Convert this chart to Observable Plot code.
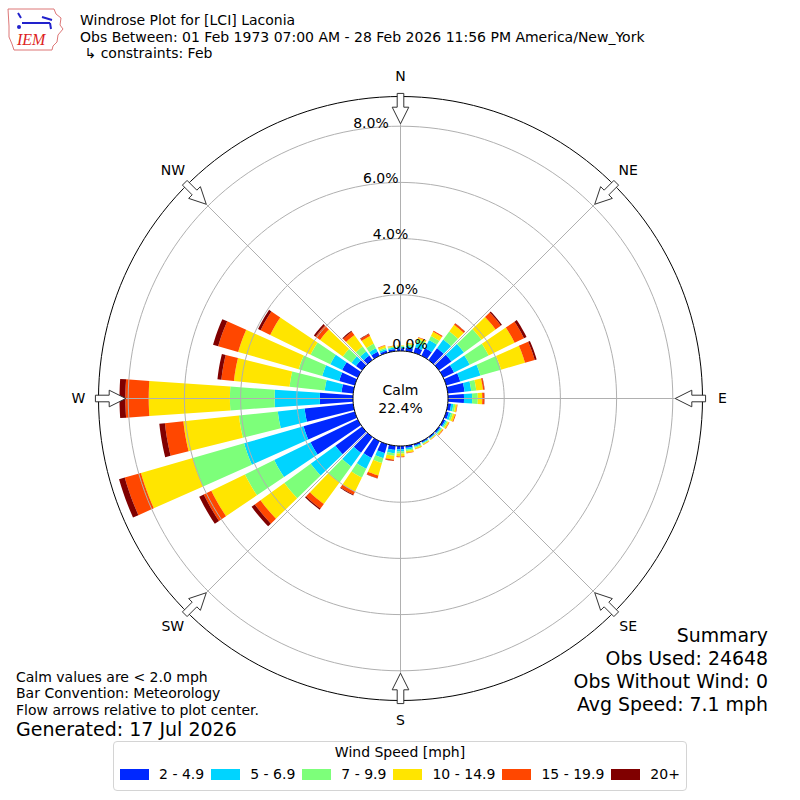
<!DOCTYPE html>
<html><head><meta charset="utf-8">
<script src="https://cdn.jsdelivr.net/npm/d3@7"></script>
<script src="https://cdn.jsdelivr.net/npm/@observablehq/plot@0.6"></script>
<style>
body{margin:0;background:#fff;font-family:"DejaVu Sans",sans-serif;}
#wrap{position:relative;width:800px;height:800px;overflow:hidden;background:#fff;}
#chart{position:absolute;left:0;top:0;}
.t{position:absolute;white-space:nowrap;color:#000;}
#legend{position:absolute;left:113px;top:741px;width:574px;height:50px;border:1px solid #d4d4d4;border-radius:4px;box-sizing:border-box;background:#fff;}
#legend .ttl{text-align:center;margin-top:2px;font-size:14px;line-height:16px;}
#items{display:flex;justify-content:center;align-items:center;margin-top:6px;font-size:14px;line-height:16px;white-space:nowrap;}
#items .it{display:flex;align-items:center;margin:0 3.5px;white-space:nowrap;flex:none;}
#items .sw{width:29px;height:11px;margin-right:10px;flex:none;}
</style></head><body>
<div id="wrap">
  <div id="chart"></div>
  <svg class="t" style="left:6px;top:6px" width="62" height="46" viewBox="0 0 62 46">
    <path d="M2,3 L48,3 L50,8 L55,12 L54,19 L57,23 L52,29 L51,36 L47,40 L46,44 L8,44 L6,38 L3,31 L3,20 Z" fill="none" stroke="#d77" stroke-width="1"/>
    <path d="M12,7 L15,12 M16,17 L44,17 M36,11 L46,14 M44,17 L45,23" fill="none" stroke="#22c" stroke-width="2"/>
    <circle cx="13" cy="21" r="2" fill="#22c"/>
    <text x="11" y="39" font-family="Liberation Serif" font-style="italic" font-size="16" fill="#d22">IEM</text>
  </svg>
  <div class="t" style="left:80px;top:12px;font-size:14px;line-height:16.5px">Windrose Plot for [LCI] Laconia<br>Obs Between: 01 Feb 1973 07:00 AM - 28 Feb 2026 11:56 PM America/New_York<br>&nbsp;↳ constraints: Feb</div>
  <div class="t" style="left:16px;top:668.5px;font-size:14px;line-height:16.5px">Calm values are &lt; 2.0 mph<br>Bar Convention: Meteorology<br>Flow arrows relative to plot center.</div>
  <div class="t" style="left:16px;top:718px;font-size:19px;line-height:22px">Generated: 17 Jul 2026</div>
  <div class="t" style="right:32px;top:623.5px;font-size:18.9px;line-height:23.3px;text-align:right">Summary<br>Obs Used: 24648<br>Obs Without Wind: 0<br>Avg Speed: 7.1 mph</div>
  <div id="legend"><div class="ttl">Wind Speed [mph]</div><div id="items"></div></div>
</div>
<script>
// ---- data (percent of observations, by direction the wind blows from) ----
const directions = [0,10,20,30,40,50,60,70,80,90,100,110,120,130,140,150,160,170,180,190,200,210,220,230,240,250,260,270,280,290,300,310,320,330,340,350];
const speedBins = ["2 - 4.9","5 - 6.9","7 - 9.9","10 - 14.9","15 - 19.9","20+"];
const binColors = ["#0028ff","#00d4ff","#7dff7a","#ffe500","#ff4700","#800000"];
const pct2to5   = [0.10,0.12,0.20,0.30,0.52,0.55,0.43,0.52,0.60,0.57,0.12,0.10,0.08,0.06,0.05,0.05,0.06,0.08,0.12,0.15,0.33,0.66,0.70,1.17,1.87,1.90,1.74,1.18,0.42,0.58,0.62,0.27,0.20,0.16,0.08,0.08];
const pct5to7   = [0.05,0.08,0.18,0.32,0.38,0.55,0.62,0.75,0.24,0.29,0.08,0.08,0.05,0.04,0.03,0.03,0.04,0.06,0.08,0.12,0.19,0.43,0.60,1.09,1.44,2.20,0.96,1.61,0.60,0.63,0.47,0.20,0.18,0.14,0.06,0.05];
const pct7to10  = [0.03,0.06,0.12,0.16,0.36,0.77,0.75,0.76,0.18,0.20,0.07,0.07,0.05,0.04,0.02,0.03,0.04,0.05,0.07,0.09,0.18,0.35,0.70,1.16,1.16,1.90,1.39,1.59,1.26,0.87,0.78,0.38,0.22,0.18,0.05,0.04];
const pct10to15 = [0.02,0.04,0.06,0.17,0.29,0.62,1.03,0.89,0.24,0.16,0.06,0.08,0.05,0.04,0.02,0.03,0.04,0.06,0.10,0.14,0.46,0.56,0.95,1.05,1.33,1.92,1.99,2.89,1.99,2.24,1.60,1.00,0.50,0.30,0.08,0.03];
const pct15to20 = [0.00,0.01,0.02,0.04,0.06,0.23,0.37,0.36,0.05,0.07,0.02,0.03,0.02,0.02,0.01,0.01,0.01,0.02,0.03,0.04,0.10,0.12,0.20,0.25,0.30,0.60,0.66,0.83,0.45,0.74,0.38,0.20,0.15,0.08,0.02,0.01];
const pct20plus = [0.00,0.00,0.00,0.00,0.01,0.05,0.10,0.07,0.01,0.01,0.00,0.00,0.00,0.00,0.00,0.00,0.00,0.00,0.00,0.01,0.01,0.03,0.05,0.14,0.18,0.21,0.20,0.21,0.14,0.19,0.10,0.07,0.04,0.02,0.00,0.00];
const calmPct = 22.4;
const ringValues = [2,4,6,8];
const ringLabelValues = [0,2,4,6,8];
const compassPoints = [["N",0],["NE",45],["E",90],["SE",135],["S",180],["SW",225],["W",270],["NW",315]];

// ---- geometry (in percent units; calm hole offsets the bars) ----
const pxPerPct = 28.1, calmPx = 47.5, outerPx = 302;
const R0 = calmPx / pxPerPct;
const U = outerPx / pxPerPct;
const outerPct = U - R0;
const halfWidth = 4;
const rad = d => d * Math.PI / 180;
const px = (p, a) => (p + R0) * Math.sin(rad(a));
const py = (p, a) => (p + R0) * Math.cos(rad(a));

const seriesValues = [pct2to5, pct5to7, pct7to10, pct10to15, pct15to20, pct20plus];
const wedgeRows = [];
directions.forEach((dir, i) => {
  let base = 0;
  seriesValues.forEach((vals, k) => {
    const v = vals[i];
    if (!(v > 0)) return;
    const top = base + v, id = dir + "-" + k, n = 6;
    for (let j = 0; j <= n; j++) { const a = dir - halfWidth + j * 2 * halfWidth / n; wedgeRows.push({id, bin: speedBins[k], x: px(top, a), y: py(top, a)}); }
    for (let j = n; j >= 0; j--) { const a = dir - halfWidth + j * 2 * halfWidth / n; wedgeRows.push({id, bin: speedBins[k], x: px(base, a), y: py(base, a)}); }
    base = top;
  });
});

function circleRows(p, key) {
  const rows = [];
  for (let a = 0; a < 360; a += 2) rows.push({key, x: px(p, a), y: py(p, a)});
  return rows;
}
const ringRows = ringValues.flatMap(v => circleRows(v, "r" + v));
const outerRows = circleRows(outerPct, "outer");
const calmRows = circleRows(0, "calm");
const spokeRows = compassPoints.map(([l, a]) => ({a}));

const arrowShape = [[304.7,-3.3],[291.3,-3.3],[291.3,-8.3],[274.7,0],[291.3,8.3],[291.3,3.3],[304.7,3.3]];
const arrowRows = compassPoints.flatMap(([label, a]) => arrowShape.map(([r, w]) => {
  const rr = r / pxPerPct, ww = w / pxPerPct, s = Math.sin(rad(a)), c = Math.cos(rad(a));
  return {label, x: rr * s + ww * c, y: rr * c - ww * s};
}));
const labelR = 322 / pxPerPct - R0;

const chart = Plot.plot({
  width: 800, height: 800,
  marginLeft: 98, marginRight: 98, marginTop: 96, marginBottom: 100,
  x: {domain: [-U, U], axis: null},
  y: {domain: [-U, U], axis: null},
  color: {domain: speedBins, range: binColors},
  style: {fontFamily: "DejaVu Sans", fontSize: "14px", background: "white"},
  marks: [
    Plot.line(wedgeRows, {x: "x", y: "y", z: "id", fill: "bin", stroke: "none", curve: "linear-closed"}),
    Plot.line(ringRows, {x: "x", y: "y", z: "key", stroke: "#b0b0b0", strokeWidth: 1, curve: "linear-closed"}),
    Plot.link(spokeRows, {x1: d => px(0, d.a), y1: d => py(0, d.a), x2: d => px(outerPct, d.a), y2: d => py(outerPct, d.a), stroke: "#b0b0b0", strokeWidth: 1}),
    Plot.line(outerRows, {x: "x", y: "y", z: "key", stroke: "black", strokeWidth: 1, curve: "linear-closed"}),
    Plot.line(calmRows, {x: "x", y: "y", z: "key", fill: "white", stroke: "black", strokeWidth: 1, curve: "linear-closed"}),
    Plot.text([`Calm\n${calmPct.toFixed(1)}%`], {x: 0, y: 0, text: d => d, fontSize: 14, lineHeight: 1.22, fill: "black"}),
    Plot.text(ringLabelValues, {x: d => px(d, -10), y: d => py(d, -10), text: d => d.toFixed(1) + "%", textAnchor: "start", dy: -7, fontSize: 14, fill: "black"}),
    Plot.line(arrowRows, {x: "x", y: "y", z: "label", fill: "white", stroke: "#333", strokeWidth: 1, curve: "linear-closed"}),
    Plot.text(compassPoints, {x: d => px(labelR, d[1]), y: d => py(labelR, d[1]), text: d => d[0], fontSize: 14, fill: "black"})
  ]
});
document.getElementById("chart").appendChild(chart);

const items = document.getElementById("items");
speedBins.forEach((b, i) => {
  const it = document.createElement("div"); it.className = "it";
  const sw = document.createElement("div"); sw.className = "sw"; sw.style.background = binColors[i];
  const lb = document.createElement("span"); lb.textContent = b;
  it.appendChild(sw); it.appendChild(lb); items.appendChild(it);
});
</script>
</body></html>
